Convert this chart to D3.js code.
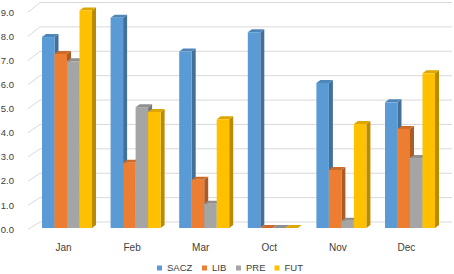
<!DOCTYPE html>
<html>
<head>
<meta charset="utf-8">
<script src="https://cdn.jsdelivr.net/npm/d3@7"></script>
<style>
  body { margin: 0; background: #fff; }
  text { font-family: "Liberation Sans", Arial, sans-serif; fill: #404040; }
</style>
</head>
<body>
<div id="wrapper"></div>
<script>
const months = ["Jan", "Feb", "Mar", "Oct", "Nov", "Dec"]
const seriesNames = ["SACZ", "LIB", "PRE", "FUT"]
const saczValues = [7.9, 8.7, 7.3, 8.1, 6.0, 5.2]
const libValues = [7.2, 2.7, 2.0, 0, 2.4, 4.1]
const preValues = [6.9, 5.0, 1.0, 0, 0.3, 2.9]
const futValues = [9.0, 4.8, 4.5, 0, 4.3, 6.4]
const yTicks = [0, 1, 2, 3, 4, 5, 6, 7, 8, 9]
const colors = ["#5B9BD5", "#ED7D31", "#A5A5A5", "#FFC000"]

function drawBarPlot(){
    const values = [saczValues, libValues, preValues, futValues]

    let dimensions = {
        width: 454,
        height: 274,
        depthX: 4,
        depthY: 3,
    }

    const wrapper = d3.select("#wrapper")
                    .append("svg")
                    .attr("width", dimensions.width)
                    .attr("height", dimensions.height)

    // front of the bars, back wall, and the axis labels sit on slightly different planes
    const yBar = d3.scaleLinear().domain([0, 9]).range([228, 10.5])
    const yBack = d3.scaleLinear().domain([0, 9]).range([222, 2.5])
    const yFront = d3.scaleLinear().domain([0, 9]).range([229.3, 12.3])

    const x0 = d3.scaleBand()
                .domain(months)
                .range([42, 435])
                .paddingInner(0.271)

    const x1 = d3.scaleBand()
                .domain(seriesNames)
                .range([0, x0.bandwidth()])

    // gridlines on the back wall + the slanted bit at the side
    const grid = wrapper.append("g")
    grid.selectAll("line.back")
        .data(yTicks)
        .join("line")
        .attr("class", "back")
        .attr("x1", 40)
        .attr("x2", 452)
        .attr("y1", d => yBack(d))
        .attr("y2", d => yBack(d))
        .attr("stroke", "#d9d9d9")
        .attr("stroke-width", 1)
    grid.selectAll("line.side")
        .data(yTicks)
        .join("line")
        .attr("class", "side")
        .attr("x1", 28)
        .attr("x2", 40)
        .attr("y1", d => yFront(d))
        .attr("y2", d => yBack(d))
        .attr("stroke", "#d9d9d9")
        .attr("stroke-width", 1)

    wrapper.append("g")
        .selectAll("text")
        .data(yTicks)
        .join("text")
        .attr("x", 14)
        .attr("y", d => yFront(d))
        .attr("dy", "0.35em")
        .attr("text-anchor", "end")
        .style("font-size", "9.5px")
        .text(d => d3.format(".1f")(d))

    const bars = []
    months.forEach((m, i) => {
        seriesNames.forEach((s, j) => {
            bars.push({month: m, series: s, value: values[j][i], color: colors[j]})
        })
    })

    const dx = dimensions.depthX
    const dy = dimensions.depthY
    const barGroups = wrapper.append("g")
                      .selectAll("g")
                      .data(bars)
                      .join("g")

    barGroups.append("polygon")
        .attr("points", d => {
            const x = x0(d.month) + x1(d.series) + x1.bandwidth()
            const top = yBar(d.value)
            const bottom = yBar(0)
            return [[x, top], [x + dx, top - dy], [x + dx, bottom - dy], [x, bottom]].join(" ")
        })
        .attr("fill", d => d3.color(d.color).darker(0.9))

    barGroups.append("polygon")
        .attr("points", d => {
            const x = x0(d.month) + x1(d.series)
            const w = x1.bandwidth()
            const top = yBar(d.value)
            return [[x, top], [x + dx, top - dy], [x + w + dx, top - dy], [x + w, top]].join(" ")
        })
        .attr("fill", d => d3.color(d.color).darker(0.4))

    barGroups.append("rect")
        .attr("x", d => x0(d.month) + x1(d.series))
        .attr("y", d => yBar(d.value))
        .attr("width", x1.bandwidth())
        .attr("height", d => yBar(0) - yBar(d.value))
        .attr("fill", d => d.color)

    wrapper.append("g")
        .selectAll("text")
        .data(months)
        .join("text")
        .attr("x", d => x0(d) + 21.5)
        .attr("y", 247)
        .attr("dy", "0.35em")
        .attr("text-anchor", "middle")
        .style("font-size", "10px")
        .text(d => d)

    // legend
    const legendX = [157, 202, 236, 274.5]
    const legend = wrapper.append("g")
                   .selectAll("g")
                   .data(seriesNames)
                   .join("g")
                   .attr("transform", (d, i) => `translate(${legendX[i]},268)`)
    legend.append("rect")
        .attr("x", 0)
        .attr("y", -2.5)
        .attr("width", 5)
        .attr("height", 5)
        .attr("fill", (d, i) => colors[i])
    legend.append("text")
        .attr("x", 10)
        .attr("dy", "0.35em")
        .style("font-size", "9.5px")
        .text(d => d)
}

drawBarPlot()
</script>
</body>
</html>
